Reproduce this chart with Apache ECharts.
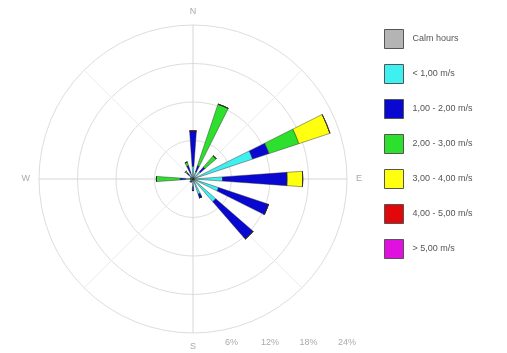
<!DOCTYPE html>
<html>
<head>
<meta charset="utf-8">
<style>
  html, body { margin: 0; padding: 0; background: #ffffff; }
  #chart { width: 507px; height: 353px; }
</style>
<script src="https://cdn.jsdelivr.net/npm/echarts@6/dist/echarts.min.js"></script>
</head>
<body>
<div id="chart"></div>
<script>
// Wind directions (16 sectors, clockwise from north)
const directions = ['N', 'NNE', 'NE', 'ENE', 'E', 'ESE', 'SE', 'SSE', 'S', 'SSW', 'SW', 'WSW', 'W', 'WNW', 'NW', 'NNW'];

// Frequency (%) per speed class and direction
const calmHours = [0, 0, 0, 0, 0, 0, 0, 0, 0, 0, 0, 0, 0, 0, 0, 0];
const below1 = [2.0, 1.2, 1.5, 9.8, 4.6, 4.2, 4.7, 2.5, 1.2, 0.5, 0.6, 0.4, 1.2, 0.4, 0.8, 1.0];
const from1to2 = [5.5, 1.0, 1.0, 2.7, 10.1, 8.2, 7.7, 0.6, 0.6, 0, 0, 0, 0.8, 0, 0.5, 1.2];
const from2to3 = [0, 10.1, 2.3, 4.9, 0, 0, 0, 0, 0, 0, 0, 0, 3.7, 0, 0.3, 0.6];
const from3to4 = [0, 0, 0, 5.1, 2.4, 0, 0, 0, 0, 0, 0, 0, 0, 0, 0, 0];
const from4to5 = [0, 0, 0, 0, 0, 0, 0, 0, 0, 0, 0, 0, 0, 0, 0, 0];
const above5 = [0, 0, 0, 0, 0, 0, 0, 0, 0, 0, 0, 0, 0, 0, 0, 0];

const classNames = ['Calm hours', '< 1,00 m/s', '1,00 - 2,00 m/s', '2,00 - 3,00 m/s', '3,00 - 4,00 m/s', '4,00 - 5,00 m/s', '> 5,00 m/s'];
const classData = [calmHours, below1, from1to2, from2to3, from3to4, from4to5, above5];
const classColors = ['#b4b4b4', '#3ff0f0', '#0808d0', '#2ee02e', '#ffff10', '#e00808', '#e010e0'];

// Radius scale ticks (%)
const radiusTicks = [0, 6, 12, 18, 24];
const compassLabels = ['N', 'E', 'S', 'W'];

const center = [193, 179];
const radius = 154;

const chart = echarts.init(document.getElementById('chart'), null, { renderer: 'canvas' });

const series = classNames.map((name, i) => ({
  name: name,
  type: 'bar',
  coordinateSystem: 'polar',
  polarIndex: 0,
  stack: 'rose',
  barWidth: '36%',
  data: classData[i],
  itemStyle: {
    color: classColors[i],
    borderColor: 'rgba(40,40,40,0.55)',
    borderWidth: 0.8
  },
  emphasis: { disabled: true },
  animation: false
}));

chart.setOption({
  backgroundColor: '#ffffff',
  animation: false,
  textStyle: { fontFamily: 'Liberation Sans, Arial, sans-serif' },
  legend: {
    orient: 'vertical',
    left: 379,
    top: 24,
    itemWidth: 19,
    itemHeight: 19,
    itemGap: 15,
    icon: 'rect',
    selectedMode: false,
    data: classNames,
    itemStyle: { borderColor: '#555555', borderWidth: 1 },
    textStyle: { fontSize: 9, color: '#555555', padding: [0, 0, 0, 4] }
  },
  polar: [
    { center: center, radius: radius },
    { center: center, radius: radius }
  ],
  angleAxis: [
    {
      // Direction sectors with compass letters
      polarIndex: 0,
      type: 'category',
      data: directions,
      startAngle: 90 + 360 / 32,
      clockwise: true,
      boundaryGap: true,
      axisLine: { show: false },
      axisTick: { show: false },
      splitLine: { show: false },
      axisLabel: {
        interval: 0,
        margin: 9,
        fontSize: 9,
        color: '#aaaaaa',
        formatter: (v) => (compassLabels.includes(v) ? v : '')
      }
    },
    {
      // Spokes every 45 degrees
      polarIndex: 1,
      type: 'value',
      min: 0,
      max: 360,
      interval: 45,
      startAngle: 0,
      axisLine: { show: false },
      axisTick: { show: false },
      axisLabel: { show: false },
      splitLine: { show: true, lineStyle: { color: ['#d6d6d6', '#ececec'], width: 1 } }
    }
  ],
  radiusAxis: [
    {
      polarIndex: 0,
      type: 'value',
      min: 0,
      max: 24,
      interval: 6,
      axisLine: { show: false },
      axisTick: { show: false },
      axisLabel: { show: false },
      splitLine: { show: false }
    },
    {
      // Rings and the percentage scale along the bottom
      polarIndex: 1,
      type: 'value',
      min: radiusTicks[0],
      max: radiusTicks[radiusTicks.length - 1],
      interval: radiusTicks[1] - radiusTicks[0],
      axisLine: { show: false },
      axisTick: { show: false },
      axisLabel: {
        show: true,
        showMinLabel: false,
        margin: -168,
        fontSize: 9,
        color: '#aaaaaa',
        formatter: (v) => v + '%'
      },
      splitLine: { show: true, lineStyle: { color: '#dddddd', width: 1 } }
    }
  ],
  series: series
});
</script>
</body>
</html>
